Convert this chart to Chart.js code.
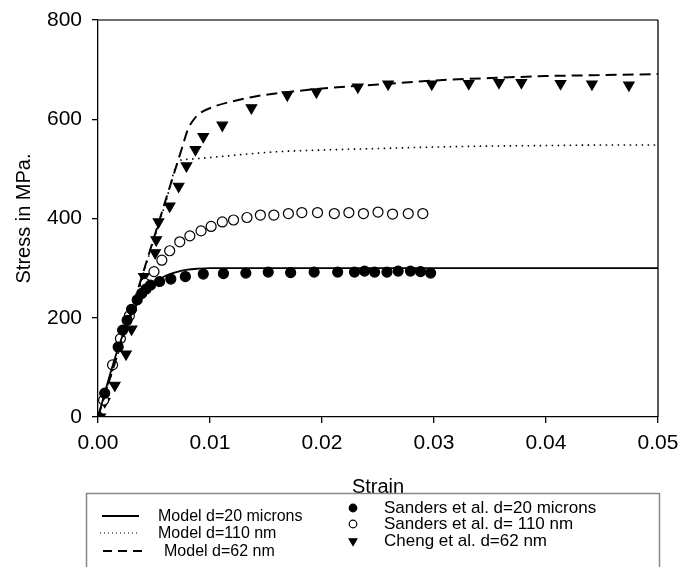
<!DOCTYPE html>
<html><head><meta charset="utf-8">
<script src="https://cdn.jsdelivr.net/npm/chart.js@4/dist/chart.umd.min.js"></script>
<style>html,body{margin:0;padding:0;background:#fff;}#wrap{width:683px;height:567px;}</style>
</head><body><div id="wrap"><canvas id="c" width="683" height="567"></canvas></div>
<script>
// ---- data ----
const xTicks = [0, 0.01, 0.02, 0.03, 0.04, 0.05];
const yTicks = [0, 200, 400, 600, 800];

const model20Strain = [0,0.0005,0.001,0.0015,0.002,0.0025,0.003,0.0035,0.004,0.0045,0.005,0.006,0.007,0.008,0.009,0.010,0.020,0.030,0.040,0.050];
const model20Stress = [0,40,80,118,152,182,207,228,245,259,270,284,292,297,299,300,300,300,300,300];

const model110Strain = [0,0.002,0.004,0.006,0.0072,0.0078,0.009,0.010,0.015,0.0163,0.020,0.025,0.030,0.0323,0.035,0.040,0.045,0.050];
const model110Stress = [0,143,286,429,515,519,521,523,533,535,538,541,544,545,546,547,548,548];

const model62Strain = [0,0.002,0.004,0.006,0.0075,0.0080,0.0085,0.0091,0.0103,0.0118,0.0138,0.0163,0.020,0.025,0.030,0.035,0.040,0.045,0.050];
const model62Stress = [0,145,289,434,542,578,598,612,625,635,645,653,662,670,678,683,687,689,691];

const sanders20Strain = [0,0.0006,0.0018,0.0022,0.0026,0.0030,0.0035,0.0039,0.0043,0.0047,0.0055,0.0065,0.0078,0.0094,0.0112,0.0132,0.0152,0.0172,0.0193,0.0214,0.0229,0.0238,0.0247,0.0258,0.0268,0.0279,0.0288,0.0297];
const sanders20Stress = [0,48,141,175,195,217,236,249,258,266,273,278,283,288,289,290,292,291,292,292,292,294,292,292,294,294,293,290];

const sanders110Strain = [0,0.0005,0.0013,0.0020,0.0028,0.0042,0.0050,0.0057,0.0064,0.0073,0.0082,0.0092,0.0101,0.0111,0.0121,0.0133,0.0145,0.0157,0.0170,0.0182,0.0196,0.0211,0.0224,0.0237,0.0250,0.0263,0.0277,0.0290];
const sanders110Stress = [0,34,105,158,204,269,293,316,335,353,365,375,384,393,397,402,407,407,410,412,412,410,412,410,413,409,410,410];

const cheng62Strain = [0.0002,0.0006,0.0015,0.0025,0.0030,0.0041,0.0051,0.0052,0.0054,0.0064,0.0072,0.0079,0.0087,0.0094,0.0111,0.0137,0.0169,0.0195,0.0232,0.0259,0.0298,0.0331,0.0358,0.0378,0.0413,0.0441,0.0474];
const cheng62Stress = [0,31,64,127,177,283,331,357,393,425,465,506,539,565,588,623,649,655,665,671,671,672,674,674,672,671,669];

const seriesLabels = ["Model d=20 microns","Model d=110 nm","Model d=62 nm","Sanders et al. d=20 microns","Sanders et al. d= 110 nm","Cheng et al. d=62 nm"];

const pts = (xs, ys) => xs.map((x, i) => ({x, y: ys[i]}));
const FONT = "'Liberation Sans', Arial, sans-serif";

const lineDs = (label, xs, ys, dash, w) => ({
  type: 'line', label, data: pts(xs, ys), borderColor: '#000', backgroundColor: '#000',
  borderWidth: w, borderDash: dash, pointRadius: 0, cubicInterpolationMode: 'monotone', fill: false, order: 1
});
const markDs = (label, xs, ys, style, fillCol, r, rot) => ({
  type: 'scatter', label, data: pts(xs, ys), showLine: false, pointStyle: style,
  pointRadius: r, pointRotation: rot, pointBackgroundColor: fillCol, pointBorderColor: '#000',
  pointBorderWidth: 1.2, order: 2
});

const datasets = [
  lineDs(seriesLabels[0], model20Strain, model20Stress, [], 1.8),
  lineDs(seriesLabels[1], model110Strain, model110Stress, [1.5, 4.5], 1.6),
  lineDs(seriesLabels[2], model62Strain, model62Stress, [11, 6], 2),
  markDs(seriesLabels[3], sanders20Strain, sanders20Stress, 'circle', '#000', 5, 0),
  markDs(seriesLabels[4], sanders110Strain, sanders110Stress, 'circle', '#fff', 5, 0),
  markDs(seriesLabels[5], cheng62Strain, cheng62Stress, 'triangle', '#000', 6, 180)
];

const framePlugin = {
  id: 'frame',
  afterDatasetsDraw(chart) {
    const {ctx, chartArea: a} = chart;
    ctx.save();
    ctx.strokeStyle = '#6e6e6e'; ctx.lineWidth = 2;
    ctx.beginPath(); ctx.moveTo(a.left, a.top); ctx.lineTo(a.right, a.top); ctx.stroke();
    ctx.strokeStyle = '#000'; ctx.lineWidth = 1.3;
    ctx.beginPath(); ctx.moveTo(a.right, a.top); ctx.lineTo(a.right, a.bottom); ctx.stroke();
    ctx.restore();
  }
};

const legendPlugin = {
  id: 'boxLegend',
  afterDraw(chart) {
    const ctx = chart.ctx;
    const ds = chart.data.datasets;
    ctx.save();
    ctx.strokeStyle = '#888'; ctx.lineWidth = 1.5;
    ctx.strokeRect(86.5, 493.5, 573, 90);
    const rowsL = [516, 533, 551];
    const textL = [158, 158, 164];
    const sampL = [[102,139],[100,139],[103,146]];
    ctx.textBaseline = 'middle'; ctx.textAlign = 'left';
    for (let i = 0; i < 3; i++) {
      ctx.strokeStyle = '#000';
      ctx.lineWidth = i === 1 ? 1 : 2;
      ctx.setLineDash(i === 1 ? [1, 3] : (i === 2 ? [9, 6] : []));
      ctx.beginPath(); ctx.moveTo(sampL[i][0], rowsL[i]); ctx.lineTo(sampL[i][1], rowsL[i]); ctx.stroke();
      ctx.setLineDash([]);
      ctx.fillStyle = '#000';
      ctx.font = '16px ' + FONT;
      ctx.fillText(ds[i].label, textL[i], rowsL[i] + 1);
    }
    const rowsR = [508, 524, 541];
    for (let i = 0; i < 3; i++) {
      const d = ds[i + 3];
      ctx.fillStyle = d.pointBackgroundColor; ctx.strokeStyle = '#000'; ctx.lineWidth = 1.2;
      Chart.helpers.drawPoint(ctx, { pointStyle: d.pointStyle, rotation: d.pointRotation, radius: i === 2 ? 4.5 : 3.8, borderWidth: 1.2 }, 353, rowsR[i]);
      ctx.fillStyle = '#000';
      ctx.font = '17px ' + FONT;
      ctx.fillText(d.label, 384, rowsR[i]);
    }
    ctx.restore();
  }
};

new Chart(document.getElementById('c'), {
  data: { datasets },
  options: {
    responsive: false, animation: false, devicePixelRatio: 1,
    layout: { padding: { left: 0, right: 25, top: 20, bottom: 68 } },
    plugins: { legend: { display: false }, tooltip: { enabled: false } },
    scales: {
      x: {
        type: 'linear', min: 0, max: 0.05,
        afterBuildTicks: s => { s.ticks = xTicks.map(v => ({value: v})); },
        afterFit: s => { s.height = 82; s.paddingLeft = 0; s.paddingRight = 0; },
        ticks: { callback: v => v.toFixed(2), color: '#000', font: { family: FONT, size: 21 }, padding: 8, maxRotation: 0 },
        grid: { drawOnChartArea: false, tickLength: 6, color: '#000', lineWidth: 1.3 },
        border: { color: '#000', width: 1.3 },
        title: { display: true, text: 'Strain', color: '#000', font: { family: FONT, size: 20 }, padding: 0 }
      },
      y: {
        type: 'linear', min: 0, max: 800,
        afterBuildTicks: s => { s.ticks = yTicks.map(v => ({value: v})); },
        afterFit: s => { s.width = 98; s.paddingTop = 0; s.paddingBottom = 0; },
        ticks: { color: '#000', font: { family: FONT, size: 21 }, padding: 10 },
        grid: { drawOnChartArea: false, tickLength: 6, color: '#000', lineWidth: 1.3 },
        border: { color: '#000', width: 1.3 },
        title: { display: true, text: 'Stress in MPa.', color: '#000', font: { family: FONT, size: 20 }, padding: { top: 12, bottom: 0 } }
      }
    }
  },
  plugins: [framePlugin, legendPlugin]
});
</script></body></html>
